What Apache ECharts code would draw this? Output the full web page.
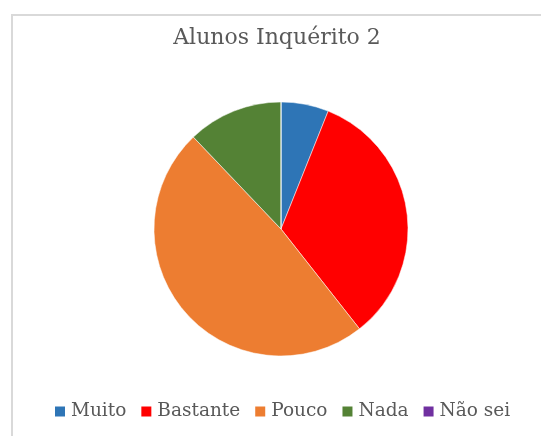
<!DOCTYPE html>
<html>
<head>
<meta charset="utf-8">
<script src="https://cdn.jsdelivr.net/npm/echarts@6/dist/echarts.min.js"></script>
<style>
  html, body { margin: 0; padding: 0; background: #fff; }
  #chart { width: 541px; height: 436px; }
</style>
</head>
<body>
<div id="chart"></div>
<script>
// respostas do inquérito (contagens)
const categories = ['Muito', 'Bastante', 'Pouco', 'Nada', 'Não sei'];
const values = [2, 11, 16, 4, 0];
const colors = ['#2E75B6', '#FF0000', '#ED7D31', '#548235', '#7030A0'];

const serif = 'DejaVu Serif';
const chart = echarts.init(document.getElementById('chart'));

const option = {
    animation: false,
    color: colors,
    title: {
        text: 'Alunos Inquérito 2',
        left: 272,
        top: 22,
        textAlign: 'center',
        textStyle: {
            fontFamily: serif,
            fontSize: 22,
            fontWeight: 'normal',
            color: '#595959'
        }
    },
    graphic: [
        {
            type: 'rect',
            shape: { x: 12, y: 15, width: 600, height: 500 },
            style: { fill: 'none', stroke: '#d9d9d9', lineWidth: 2 },
            silent: true
        }
    ],
    legend: {
        data: categories,
        left: 48,
        top: 397,
        itemWidth: 12,
        itemHeight: 12,
        itemGap: 13,
        icon: 'rect',
        textStyle: {
            fontFamily: serif,
            fontSize: 18.5,
            color: '#595959'
        }
    },
    series: [
        {
            type: 'pie',
            center: [281, 229],
            radius: 127,
            startAngle: 90,
            clockwise: true,
            label: { show: false },
            labelLine: { show: false },
            itemStyle: { borderColor: '#fff', borderWidth: 0.5 },
            data: categories.map((name, i) => ({ name: name, value: values[i] }))
        }
    ]
};

chart.setOption(option);
</script>
</body>
</html>
